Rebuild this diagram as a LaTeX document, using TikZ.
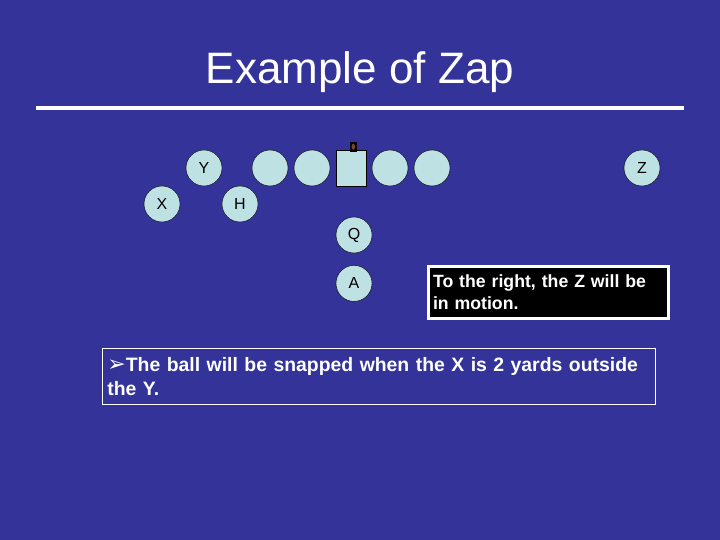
\documentclass[tikz,border=0pt]{standalone}
\usepackage{fontspec}
\setmainfont{Liberation Sans}
\newfontfamily\dingfont{DejaVu Sans}
\usetikzlibrary{positioning}
\definecolor{slideblue}{RGB}{51,51,153}
\definecolor{plfill}{RGB}{190,225,228}
\definecolor{ballbrown}{RGB}{120,70,50}

\begin{document}
\begin{tikzpicture}[x=1pt,y=-1pt,
	pl/.style={circle,minimum size=36pt,inner sep=0pt,draw=black,fill=plfill,font=\fontsize{16}{18}\selectfont},
	note/.style={text=white,font=\bfseries\fontsize{17.7}{21.6}\selectfont,align=left}]
	\fill[slideblue] (0,0) rectangle (720,540);
	\useasboundingbox (0,0) rectangle (720,540);
	\node(title)[text=white,anchor=base,inner sep=0pt,font=\fontsize{44}{50}\selectfont] at (360,84) {Example of Zap};
	\draw[white,line width=3.5pt] (36,108) -- (684,108);
	% line
	\node(y)[pl] at (204,168) {Y};
	\node(t1)[pl] at (270,168) {};
	\node(g1)[pl] at (312,168) {};
	\node(c)[rectangle,minimum width=30pt,minimum height=36pt,inner sep=0pt,draw=black,fill=plfill] at (351.5,168.5) {};
	\node(g2)[pl] at (390,168) {};
	\node(t2)[pl] at (432,168) {};
	\node(z)[pl] at (642,168) {Z};
	% ball
	\node(ball)[rectangle,minimum width=7pt,minimum height=10pt,inner sep=0pt,fill=black] at (353.3,146.7) {};
	\fill[ballbrown] (ball.center) ellipse (1.8pt and 3pt);
	% backs
	\node(x)[pl] at (162,204) {X};
	\node(h)[pl] at (240,204) {H};
	\node(q)[pl] at (354,235) {Q};
	\node(a)[pl,below=12pt of q] {A};
	% notes
	\node(msg)[note,fill=black,draw=white,line width=3pt,anchor=north west,text width=230pt,inner xsep=5pt,minimum height=52pt] at (426.5,264.5) {To the right, the Z will be\\in motion.};
	\node(rule)[note,font=\bfseries\fontsize{19.4}{24}\selectfont,draw=white,line width=0.8pt,anchor=north west,text width=543pt,inner xsep=5pt,minimum height=56pt] at (102,348) {{\dingfont\mdseries\fontsize{22}{22}\selectfont ➢}The ball will be snapped when the X is 2 yards outside\\the Y.};
\end{tikzpicture}
\end{document}
